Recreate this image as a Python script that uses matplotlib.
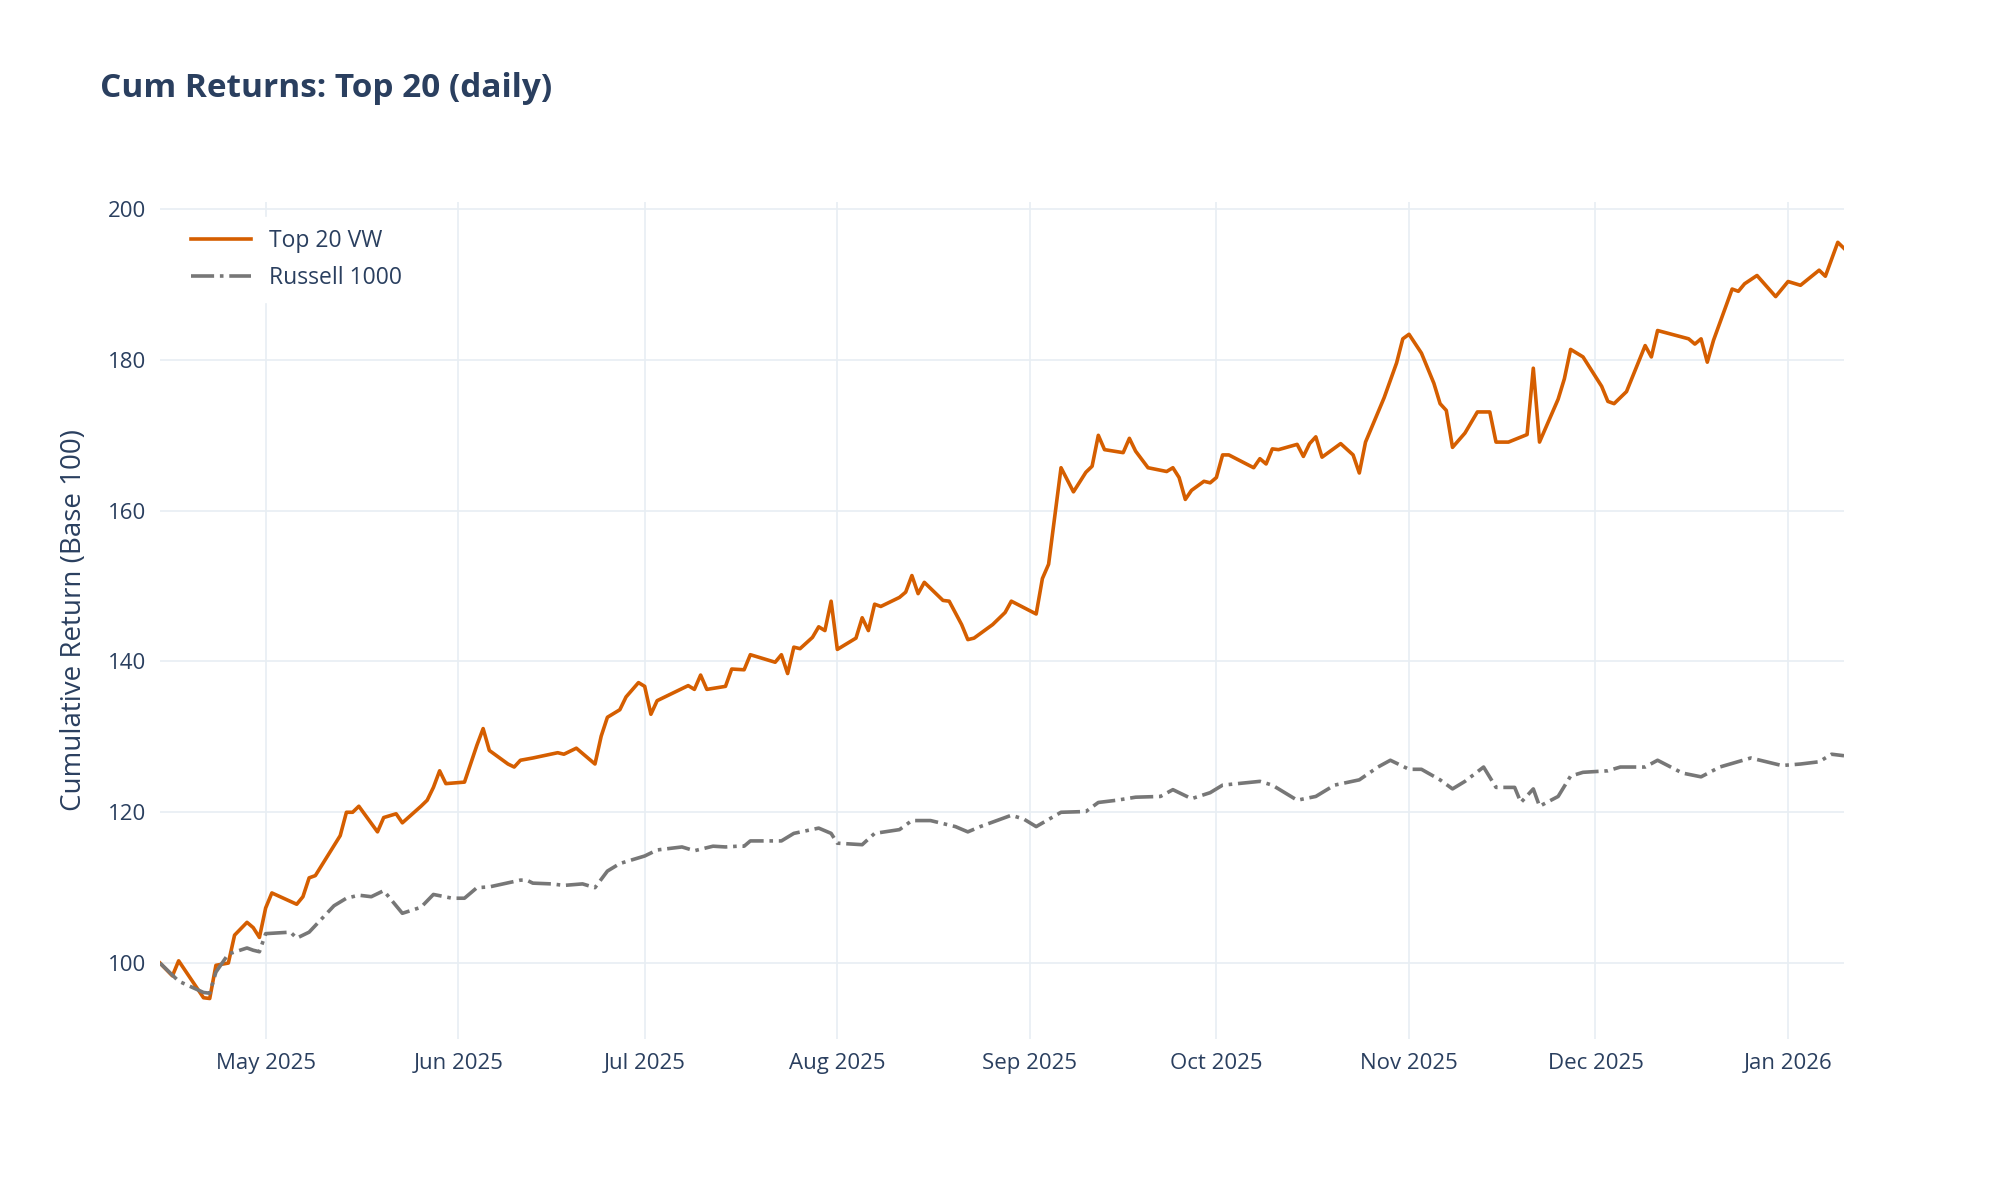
import pandas as pd
import numpy as np
import matplotlib.pyplot as plt
import matplotlib.dates as mdates

start = pd.Timestamp("2025-04-14")

# days since start
top20_days = [0, 2, 3, 7, 8, 9, 11, 12, 14, 15, 16, 17, 18, 22, 23, 24, 25, 29, 30, 31, 32, 35, 36, 38, 39,
              42, 43, 44, 45, 46, 49, 51, 52, 53, 56, 57, 58, 60, 64, 65, 67, 70, 71, 72, 74, 75, 77, 78, 79, 80,
              85, 86, 87, 88, 91, 92, 94, 95, 99, 100, 101, 102, 103, 105, 106, 107, 108, 109, 112, 113, 114, 115,
              116, 119, 120, 121, 122, 123, 126, 127, 129, 130, 131, 134, 136, 137, 141, 142, 143, 145, 147, 149,
              150, 151, 152, 155, 156, 157, 159, 162, 163, 164, 165, 166, 168, 169, 170, 171, 172, 176, 177, 178,
              179, 180, 183, 184, 185, 186, 187, 190, 192, 193, 194, 197, 199, 200, 201, 203, 205, 206, 207, 208,
              210, 212, 214, 215, 217, 220, 221, 222, 225, 226, 227, 229, 232, 233, 234, 236, 239, 240, 241, 246,
              247, 248, 249, 250, 253, 254, 255, 257, 260, 262, 264, 267, 268, 270, 271]
top20_vals = [100, 98.3, 100.3, 95.4, 95.3, 99.7, 100, 103.7, 105.4, 104.7, 103.4, 107.3, 109.3, 107.8, 108.8,
              111.3, 111.6, 116.9, 120, 120, 120.8, 117.4, 119.3, 119.8, 118.6, 120.8, 121.6, 123.3, 125.5, 123.8,
              124, 128.9, 131.1, 128.2, 126.4, 126, 126.9, 127.2, 127.9, 127.7, 128.5, 126.4, 130.1, 132.6, 133.6,
              135.3, 137.2, 136.7, 133, 134.8, 136.8, 136.3, 138.2, 136.3, 136.7, 139, 138.9, 140.9, 139.9, 140.9,
              138.4, 141.9, 141.7, 143.2, 144.6, 144.1, 148, 141.6, 143.1, 145.8, 144.1, 147.6, 147.3, 148.5, 149.2,
              151.4, 149, 150.5, 148.1, 148, 144.9, 142.9, 143.1, 144.9, 146.5, 148, 146.3, 151, 152.9, 165.7, 162.5,
              165.1, 165.9, 170, 168.1, 167.7, 169.6, 167.9, 165.7, 165.2, 165.7, 164.4, 161.5, 162.7, 163.9, 163.7,
              164.4, 167.4, 167.4, 165.7, 166.9, 166.2, 168.2, 168.1, 168.8, 167.2, 168.9, 169.8, 167.1, 168.9, 167.4,
              165, 169.1, 175, 179.6, 182.8, 183.4, 180.9, 176.9, 174.2, 173.3, 168.4, 170.3, 173.1, 173.1, 169.1,
              169.1, 170.1, 178.9, 169.1, 174.8, 177.5, 181.4, 180.4, 176.5, 174.5, 174.2, 175.8, 181.9, 180.4, 183.9,
              182.8, 182.1, 182.8, 179.7, 182.6, 189.4, 189.1, 190.1, 191.2, 188.4, 190.4, 189.9, 191.9, 191.1,
              195.6, 194.8]

r1000_days = [0, 3, 7, 8, 9, 11, 14, 15, 16, 17, 21, 22, 24, 28, 30, 32, 34, 36, 39, 42, 44, 47, 49, 51, 53,
              58, 59, 60, 63, 65, 68, 70, 72, 74, 78, 80, 84, 86, 89, 91, 93, 94, 95, 100, 102, 106, 108, 109, 113,
              115, 119, 121, 124, 128, 130, 132, 137, 139, 141, 145, 149, 151, 154, 157, 161, 163, 166, 169, 171,
              177, 179, 183, 186, 189, 193, 196, 198, 201, 203, 206, 208, 210, 213, 215, 218, 219, 221, 222, 225,
              227, 229, 233, 235, 239, 241, 245, 248, 251, 256, 261, 264, 267, 269, 271]
r1000_vals = [100, 97.6, 96.1, 96, 98.8, 101.2, 102, 101.7, 101.5, 103.9, 104.1, 103.3, 104.1, 107.6, 108.6,
              109, 108.8, 109.6, 106.6, 107.4, 109.1, 108.6, 108.6, 110, 110.1, 111, 111, 110.6, 110.5, 110.3,
              110.5, 110, 112.2, 113.2, 114.2, 115, 115.4, 114.9, 115.5, 115.4, 115.5, 115.5, 116.2, 116.2, 117.2,
              117.9, 117.2, 115.9, 115.7, 117.2, 117.7, 118.9, 118.9, 118.1, 117.4, 118.1, 119.6, 119.1, 118.1,
              120, 120.1, 121.3, 121.6, 122, 122.1, 123, 121.8, 122.6, 123.6, 124.1, 123.6, 121.6, 122.1, 123.6,
              124.3, 126, 126.9, 125.7, 125.7, 124.3, 123.1, 124.1, 126, 123.3, 123.3, 121.3, 123.1, 120.8, 122.1,
              124.8, 125.3, 125.5, 126, 126, 126.9, 125.2, 124.7, 126, 127.2, 126.2, 126.4, 126.7, 127.7, 127.5]

top20_dates = start + pd.to_timedelta(top20_days, unit="D")
r1000_dates = start + pd.to_timedelta(r1000_days, unit="D")

txt = "#2a3f5f"
grid = "#e8eef3"

plt.rcParams['font.family'] = ['Open Sans', 'DejaVu Sans']

fig = plt.figure(figsize=(20, 12), dpi=100)
ax = fig.add_axes([0.080, 0.134, 0.842, 0.698])
ax.plot(top20_dates, top20_vals, color="#d55e00", lw=2.6, label="Top 20 VW")
ax.plot(r1000_dates, r1000_vals, color="#777777", lw=2.6, linestyle="-.", label="Russell 1000")

ax.set_xlim(start, start + pd.Timedelta(days=271))
ax.set_ylim(89.9, 201)
ax.set_yticks([100, 120, 140, 160, 180, 200])
ax.xaxis.set_major_locator(mdates.MonthLocator())
ax.xaxis.set_major_formatter(mdates.DateFormatter("%b %Y"))
for s in ax.spines.values():
    s.set_visible(False)
ax.grid(True, color=grid, lw=1.2)
ax.set_axisbelow(True)
ax.tick_params(length=0, labelsize=16, labelcolor=txt, pad=10)
ax.set_ylabel("Cumulative Return (Base 100)", fontsize=20, color=txt, labelpad=14)

leg = ax.legend(loc="upper left", bbox_to_anchor=(0.005, 0.995), frameon=True, fontsize=16.5,
                handlelength=2.6, borderpad=0.5, labelspacing=0.6)
leg.get_frame().set_edgecolor("white")
leg.get_frame().set_facecolor("white")
leg.get_frame().set_alpha(1)
for t in leg.get_texts():
    t.set_color(txt)

fig.text(0.05, 0.926, "Cum Returns: Top 20 (daily)", fontsize=24, fontweight="bold", color=txt, va="center")

fig.savefig("out.png", dpi=100)
